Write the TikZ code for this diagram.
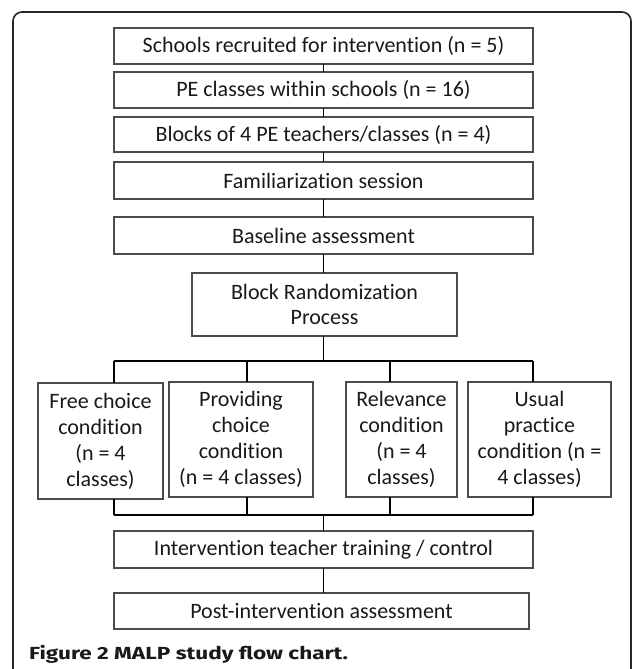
\documentclass[tikz,border=0pt]{standalone}
\usepackage{fontspec}
\setmainfont{Carlito}[Ligatures={NoCommon}]
\newfontfamily\capfont{Fira Sans}[FakeStretch=1.29]
\begin{document}
\begin{tikzpicture}[x=1pt,y=-1pt,
  box/.style={draw=black!70, line width=1.2pt, inner sep=0pt, outer sep=0pt,
    align=center, text=black!90, font=\fontsize{22}{26}\selectfont},
  conn/.style={draw=black, line width=1.1pt},
  frame/.style={draw=black!85, line width=1.6pt, rounded corners=9pt}]
\useasboundingbox (0,0) rectangle (632,669);
% outer frame
\draw[frame] (13,680) -- (13,12) -- (631,12) -- (631,680);
% main boxes
\node[box, minimum width=419pt, minimum height=36pt] (s1) at (323.5,46) {Schools recruited for intervention (n = 5)};
\node[box, minimum width=419pt, minimum height=36pt] (s2) at (323.5,90) {PE classes within schools (n = 16)};
\node[box, minimum width=419pt, minimum height=35pt] (s3) at (323.5,134.5) {Blocks of 4 PE teachers/classes (n = 4)};
\node[box, minimum width=419pt, minimum height=37pt] (s4) at (323.5,180.5) {Familiarization session};
\node[box, minimum width=419pt, minimum height=37pt] (s5) at (323.5,235.5) {Baseline assessment};
\node[box, minimum width=265pt, minimum height=63pt, font=\fontsize{22}{24.5}\selectfont] (s6) at (324.5,304.5) {Block Randomization\\Process};
% condition boxes
\node[box, minimum width=125pt, minimum height=116pt] (c1) at (100.5,441) {Free choice\\condition\\(n = 4\\classes)};
\node[box, minimum width=144pt, minimum height=115pt] (c2) at (241,439.5) {Providing\\choice\\condition\\(n = 4 classes)};
\node[box, minimum width=111pt, minimum height=115pt] (c3) at (401.5,439.5) {Relevance\\condition\\(n = 4\\classes)};
\node[box, minimum width=143pt, minimum height=115pt] (c4) at (539.5,439.5) {Usual\\practice\\condition (n =\\4 classes)};
% bottom boxes
\node[box, minimum width=419pt, minimum height=37pt] (s7) at (323.5,549.5) {Intervention teacher training / control};
\node[box, minimum width=415pt, minimum height=36pt] (s8) at (321.5,611) {Post-intervention assessment};
% caption
\node[anchor=base west, inner sep=0pt, text=black!90, font={\capfont\bfseries\fontsize{17.5}{20}\selectfont}] (cap) at (29,659.5) {Figure 2 MALP study flow chart.};
% bus coordinates
\coordinate (ta) at (114,361);
\coordinate (tb) at (247,361);
\coordinate (tc) at (390,361);
\coordinate (td) at (533,361);
\coordinate (tm) at (323.5,361);
\coordinate (ba) at (114,515);
\coordinate (bb) at (247,515);
\coordinate (bc) at (390,515);
\coordinate (bd) at (533,515);
\coordinate (bm) at (323.5,515);
% connectors
\draw[conn] (s1.south) -- (s2.north);
\draw[conn] (s2.south) -- (s3.north);
\draw[conn] (s3.south) -- (s4.north);
\draw[conn] (s4.south) -- (s5.north);
\draw[conn] (s5.south) -- (s5.south |- s6.north);
\draw[conn] (s6.south -| tm) -- (tm);
\draw[conn] (ta) -- (td);
\draw[conn] (ta) -- (ta |- c1.north);
\draw[conn] (tb) -- (tb |- c2.north);
\draw[conn] (tc) -- (tc |- c3.north);
\draw[conn] (td) -- (td |- c4.north);
\draw[conn] (ba |- c1.south) -- (ba);
\draw[conn] (bb |- c2.south) -- (bb);
\draw[conn] (bc |- c3.south) -- (bc);
\draw[conn] (bd |- c4.south) -- (bd);
\draw[conn] (ba) -- (bd);
\draw[conn] (bm) -- (s7.north);
\draw[conn] (s7.south) -- (s7.south |- s8.north);
\end{tikzpicture}
\end{document}
